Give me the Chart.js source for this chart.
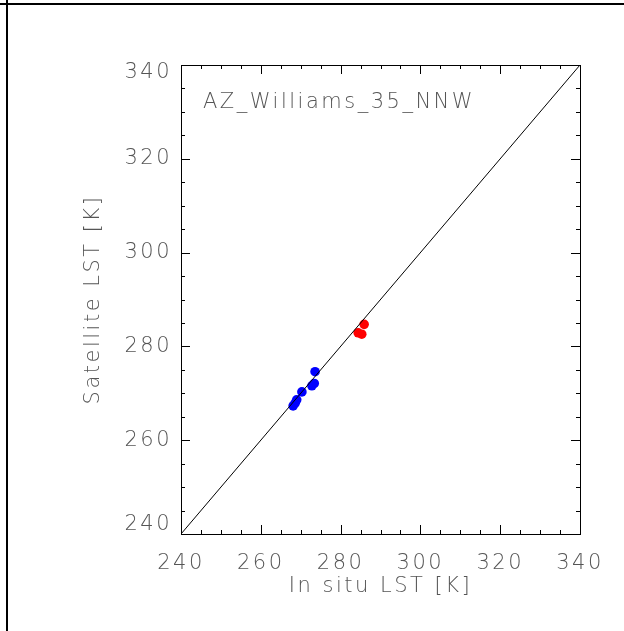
<!DOCTYPE html>
<html>
<head>
<meta charset="utf-8">
<script src="https://cdn.jsdelivr.net/npm/chart.js@4/dist/chart.umd.min.js"></script>
<style>
  html, body { margin: 0; padding: 0; background: #fff; }
  canvas { display: block; }
</style>
</head>
<body>
<canvas id="lstChart" width="624" height="631"></canvas>
<script>
// station and matchups (in situ vs satellite LST, Kelvin)
const siteName = 'AZ_Williams_35_NNW';
const blueInSitu = [273.6, 273.4, 272.8, 270.3, 269.0, 268.6, 268.1];
const blueSatellite = [274.6, 272.1, 271.6, 270.3, 268.6, 267.9, 267.3];
const redInSitu = [285.9, 284.4, 285.3];
const redSatellite = [284.7, 282.9, 282.6];
const axisTicks = [240, 260, 280, 300, 320, 340];
const oneToOne = [240, 340];

const textColor = '#555';
const labelFont = { family: 'DejaVu Sans', size: 21, weight: 200 };

function pairs(xs, ys) {
  return xs.map((v, i) => ({ x: v, y: ys[i] }));
}

// outer frame, box, inward ticks and site label
const frameTicks = {
  id: 'frameTicks',
  beforeDraw(chart) {
    const ctx = chart.ctx;
    ctx.letterSpacing = '2.5px';
    // keep the end labels of the y axis inside the box
    const items = chart.scales.y.getLabelItems();
    items[0].options.translation[1] -= 9;
    items[items.length - 1].options.translation[1] += 8;

    ctx.save();
    ctx.fillStyle = '#000';
    ctx.fillRect(0, 3, chart.width, 2);
    ctx.fillRect(6, 0, 2, chart.height);
    ctx.restore();
  },
  afterDatasetsDraw(chart) {
    const { ctx, chartArea: a, scales: { x, y } } = chart;
    ctx.save();
    ctx.strokeStyle = '#000';
    ctx.lineWidth = 1;
    ctx.strokeRect(a.left + 0.5, a.top + 0.5, a.right - a.left, a.bottom - a.top);
    ctx.beginPath();
    for (let v = axisTicks[0]; v <= axisTicks[axisTicks.length - 1]; v += 5) {
      const len = v % 20 === 0 ? 9 : 4;
      const px = Math.round(x.getPixelForValue(v)) + 0.5;
      ctx.moveTo(px, a.bottom); ctx.lineTo(px, a.bottom - len);
      ctx.moveTo(px, a.top); ctx.lineTo(px, a.top + len);
      const py = Math.round(y.getPixelForValue(v)) + 0.5;
      ctx.moveTo(a.left, py); ctx.lineTo(a.left + len, py);
      ctx.moveTo(a.right, py); ctx.lineTo(a.right - len, py);
    }
    ctx.stroke();

    ctx.fillStyle = textColor;
    ctx.font = labelFont.weight + ' ' + labelFont.size + 'px "' + labelFont.family + '"';
    ctx.textAlign = 'left';
    ctx.textBaseline = 'middle';
    ctx.fillText(siteName, a.left + 22, a.top + 38);
    ctx.restore();
  }
};

new Chart(document.getElementById('lstChart'), {
  data: {
    datasets: [
      {
        type: 'line',
        data: pairs(oneToOne, oneToOne),
        borderColor: '#000',
        borderWidth: 1,
        pointRadius: 0,
        fill: false
      },
      {
        type: 'scatter',
        data: pairs(blueInSitu, blueSatellite),
        backgroundColor: '#0000ff',
        borderWidth: 0,
        pointRadius: 4.8
      },
      {
        type: 'scatter',
        data: pairs(redInSitu, redSatellite),
        backgroundColor: '#ff0000',
        borderWidth: 0,
        pointRadius: 4.8
      }
    ]
  },
  options: {
    responsive: false,
    animation: false,
    devicePixelRatio: 1,
    layout: { padding: { left: 80, right: 44, top: 65, bottom: 0 } },
    plugins: { legend: { display: false }, tooltip: { enabled: false } },
    scales: {
      x: {
        type: 'linear',
        min: 240,
        max: 340,
        afterBuildTicks: s => { s.ticks = axisTicks.map(v => ({ value: v })); },
        afterFit: s => { s.height = 97; },
        grid: { display: false, drawTicks: false },
        border: { display: false },
        ticks: { color: textColor, font: labelFont, padding: 17, maxRotation: 0 },
        title: {
          display: true,
          text: 'In situ LST [K]',
          color: textColor,
          font: labelFont,
          padding: { top: 0, bottom: 32 }
        }
      },
      y: {
        type: 'linear',
        min: 240,
        max: 340,
        afterBuildTicks: s => { s.ticks = axisTicks.map(v => ({ value: v })); },
        afterFit: s => { s.width = 101; },
        grid: { display: false, drawTicks: false },
        border: { display: false },
        ticks: { color: textColor, font: labelFont, padding: 9 },
        title: {
          display: true,
          text: 'Satellite LST [K]',
          color: textColor,
          font: labelFont,
          padding: { top: 1, bottom: 0 }
        }
      }
    }
  },
  plugins: [frameTicks]
});
</script>
</body>
</html>
